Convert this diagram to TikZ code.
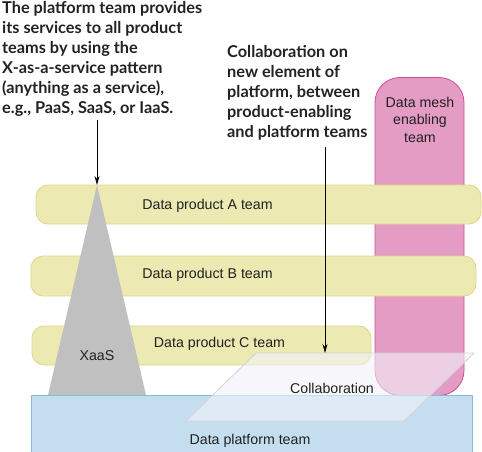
\documentclass[tikz,border=0pt]{standalone}
\usepackage{fontspec}
\setmainfont{Liberation Sans}
\newfontfamily\calloutfont{Lato}
\usetikzlibrary{arrows.meta}
\definecolor{ybarfill}{HTML}{EDE9B2}
\definecolor{ybardraw}{HTML}{DCD888}
\definecolor{pinkfill}{HTML}{E49CC4}
\definecolor{pinkdraw}{HTML}{D04A92}
\definecolor{grayfill}{HTML}{C0C0C0}
\definecolor{bluefill}{HTML}{C4DEF0}
\definecolor{bluedraw}{HTML}{86B8E0}
\definecolor{collabdraw}{HTML}{D2D2DC}
\definecolor{collabfill}{HTML}{F2F2F8}
\definecolor{txt}{HTML}{222222}
\tikzset{
  ybar/.style={draw=ybardraw, fill=ybarfill, line width=0.8pt, rounded corners=12pt, rectangle, inner sep=0pt},
  lbl/.style={font=\fontsize{14.2}{16}\selectfont, text=txt, inner sep=0pt},
  callout/.style={font=\calloutfont\bfseries\fontsize{16.3}{20}\selectfont, align=left, inner sep=0pt, anchor=north west, text=txt},
  arr/.style={-{Stealth[length=9pt,width=5pt]}, line width=0.8pt, black}
}
\begin{document}
\begin{tikzpicture}[x=1pt,y=-1pt]
\useasboundingbox (0,0) rectangle (482,452);
% pink enabling team
\node[draw=pinkdraw, fill=pinkfill, line width=0.8pt, rounded corners=25pt, minimum width=89pt, minimum height=318pt, inner sep=0pt] (mesh) at (419.5,236.5) {};
\node[lbl, align=center, font=\fontsize{14.2}{17.5}\selectfont] (meshlbl) at (420,119.5) {Data mesh\\enabling\\team};
% yellow bars
\node[ybar, minimum width=445pt, minimum height=39pt] (A) at (258.5,204.5) {};
\node[ybar, minimum width=445pt, minimum height=40pt] (B) at (253.5,276) {};
\node[ybar, minimum width=339pt, minimum height=39pt] (C) at (201.5,345.5) {};
\node[lbl] (Albl) at (207.5,206) {Data product A team};
\node[lbl] (Blbl) at (207.5,275) {Data product B team};
\node[lbl] (Clbl) at (219.5,344) {Data product C team};
% XaaS triangle
\coordinate (apex) at (97,185);
\coordinate (bl) at (48,395);
\coordinate (br) at (146,395);
\fill[grayfill] (apex) -- (br) -- (bl) -- cycle;
\node[lbl] (xaas) at (97,356) {XaaS};
% platform
\node[draw=bluedraw, fill=bluefill, line width=0.8pt, minimum width=441pt, minimum height=58pt, inner sep=0pt] (plat) at (251.5,424) {};
\node[lbl] (platlbl) at (250,441) {Data platform team};
% collaboration plane
\coordinate (ptl) at (256,353);
\coordinate (ptr) at (474,353);
\coordinate (pbr) at (404,421);
\coordinate (pbl) at (186,421);
\filldraw[draw=collabdraw, fill=collabfill, fill opacity=0.6, line width=0.8pt] (ptl) -- (ptr) -- (pbr) -- (pbl) -- cycle;
\node[lbl] (collab) at (332,388) {Collaboration};
% callouts
\node[callout] (t1) at (2,1) {The platform team provides\\its services to all product\\teams by using the\\X-as-a-service pattern\\(anything as a service),\\e.g., PaaS, SaaS, or IaaS.};
\node[callout] (t2) at (227,45) {Collaboration on\\new element of\\platform, between\\product-enabling\\and platform teams};
\coordinate (a1s) at (97,120);
\coordinate (a2s) at (325,147);
\coordinate (a2e) at (325,353);
\draw[arr] (a1s) -- (apex);
\draw[arr] (a2s) -- (a2e);
\end{tikzpicture}
\end{document}
